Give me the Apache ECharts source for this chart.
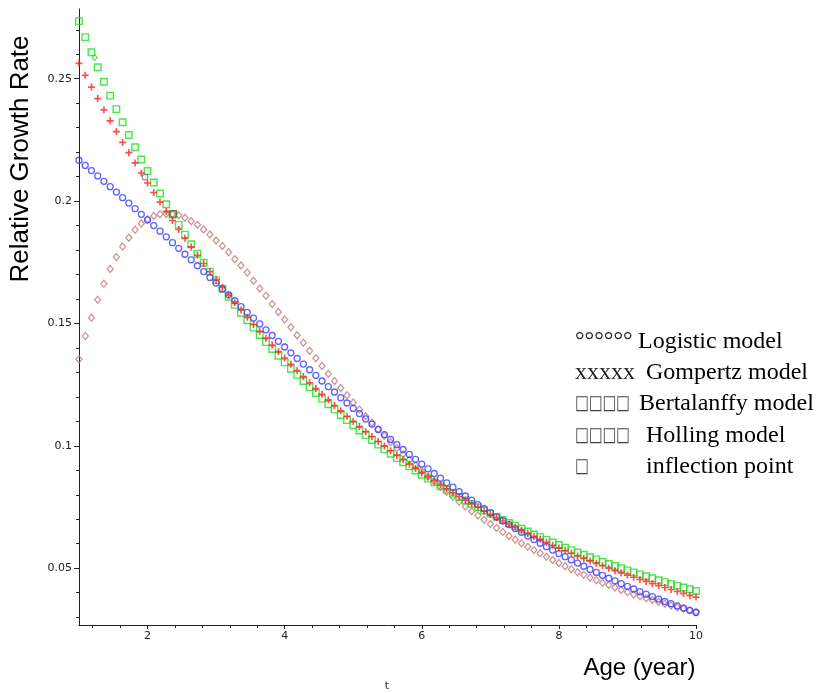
<!DOCTYPE html>
<html>
<head>
<meta charset="utf-8">
<script src="https://cdn.jsdelivr.net/npm/echarts@6/dist/echarts.min.js"></script>
<style>
html,body{margin:0;padding:0;background:#fff;}
#chart{width:824px;height:693px;}
</style>
</head>
<body>
<div id="chart"></div>
<script>
// Age t (years)
const tValues = [
1,1.0909,1.1818,1.2727,1.3636,1.4545,1.5455,1.6364,1.7273,1.8182,1.9091,
2,2.0909,2.1818,2.2727,2.3636,2.4545,2.5455,2.6364,2.7273,2.8182,2.9091,
3,3.0909,3.1818,3.2727,3.3636,3.4545,3.5455,3.6364,3.7273,3.8182,3.9091,
4,4.0909,4.1818,4.2727,4.3636,4.4545,4.5455,4.6364,4.7273,4.8182,4.9091,
5,5.0909,5.1818,5.2727,5.3636,5.4545,5.5455,5.6364,5.7273,5.8182,5.9091,
6,6.0909,6.1818,6.2727,6.3636,6.4545,6.5455,6.6364,6.7273,6.8182,6.9091,
7,7.0909,7.1818,7.2727,7.3636,7.4545,7.5455,7.6364,7.7273,7.8182,7.9091,
8,8.0909,8.1818,8.2727,8.3636,8.4545,8.5455,8.6364,8.7273,8.8182,8.9091,
9,9.0909,9.1818,9.2727,9.3636,9.4545,9.5455,9.6364,9.7273,9.8182,9.9091,
10];

// Logistic model (blue circles)
const logistic = [
0.2167,0.2146,0.2125,0.2103,0.2081,0.2059,0.2037,0.2014,0.1992,0.1969,0.1946,
0.1923,0.1900,0.1877,0.1854,0.1830,0.1807,0.1783,0.1760,0.1736,0.1712,0.1688,
0.1665,0.1641,0.1617,0.1593,0.1569,0.1545,0.1522,0.1498,0.1474,0.1451,0.1427,
0.1404,0.1380,0.1357,0.1334,0.1311,0.1288,0.1265,0.1242,0.1220,0.1197,
0.1175,0.1153,0.1132,0.1110,0.1089,0.1067,0.1046,0.1026,0.1005,
0.0985,0.0965,0.0945,0.0925,0.0906,0.0887,0.0868,0.0849,0.0831,0.0813,0.0795,
0.0778,0.0760,0.0743,0.0727,0.0710,0.0694,0.0678,0.0662,0.0647,0.0632,0.0617,
0.0602,0.0588,0.0574,0.0560,0.0547,0.0534,0.0521,0.0508,0.0495,0.0483,0.0471,
0.0459,0.0448,0.0437,0.0426,0.0415,0.0404,0.0394,0.0384,0.0374,0.0364,0.0355,
0.0346,0.0337,0.0328,0.0319];

// Gompertz model (red crosses)
const gompertz = [
0.2563,0.2514,0.2466,0.2419,0.2373,0.2328,0.2284,0.2240,0.2198,0.2156,0.2115,
0.2074,0.2035,0.1996,0.1958,0.1921,0.1884,0.1848,0.1813,0.1779,0.1745,0.1712,
0.1679,0.1647,0.1616,0.1585,0.1555,0.1525,0.1496,0.1468,0.1440,0.1412,0.1385,
0.1359,0.1333,0.1308,0.1283,0.1258,0.1234,0.1211,0.1188,0.1165,0.1143,0.1121,
0.1100,0.1079,0.1058,0.1038,0.1018,0.0999,0.0980,0.0961,0.0943,0.0925,0.0907,
0.0890,0.0873,0.0857,0.0840,0.0824,0.0809,0.0793,0.0778,0.0763,0.0749,0.0734,
0.0720,0.0707,0.0693,0.0680,0.0667,0.0654,0.0642,0.0630,0.0618,0.0606,0.0594,
0.0583,0.0572,0.0561,0.0550,0.0540,0.0530,0.0520,0.0510,0.0500,0.0490,0.0481,
0.0472,0.0463,0.0454,0.0446,0.0437,0.0429,0.0421,0.0413,0.0405,0.0397,0.0389,
0.0382];

// Bertalanffy model (green squares)
const bertalanffy = [
0.2735,0.2670,0.2608,0.2547,0.2488,0.2431,0.2376,0.2322,0.2270,0.2220,0.2170,
0.2123,0.2076,0.2031,0.1987,0.1945,0.1903,0.1863,0.1824,0.1785,0.1748,0.1712,
0.1677,0.1642,0.1609,0.1576,0.1544,0.1513,0.1483,0.1453,0.1424,0.1396,0.1368,
0.1341,0.1315,0.1290,0.1265,0.1240,0.1216,0.1193,0.1170,0.1148,0.1126,0.1105,
0.1084,0.1063,0.1044,0.1024,0.1005,0.0986,0.0968,0.0950,0.0933,0.0916,0.0899,
0.0882,0.0866,0.0851,0.0835,0.0820,0.0805,0.0791,0.0777,0.0763,0.0749,0.0736,
0.0723,0.0710,0.0697,0.0685,0.0673,0.0661,0.0650,0.0638,0.0627,0.0616,0.0605,
0.0595,0.0584,0.0574,0.0564,0.0555,0.0545,0.0536,0.0526,0.0517,0.0509,0.0500,
0.0491,0.0483,0.0475,0.0467,0.0459,0.0451,0.0443,0.0436,0.0428,0.0421,0.0414,
0.0407];

// Holling model (brown diamonds)
const holling = [
0.1354,0.1449,0.1523,0.1597,0.1662,0.1723,0.1772,0.1815,0.1850,0.1883,0.1909,
0.1926,0.1939,0.1946,0.1947,0.1946,0.1942,0.1932,0.1918,0.1903,0.1884,0.1864,
0.1839,0.1817,0.1791,0.1762,0.1737,0.1708,0.1675,0.1643,0.1613,0.1580,0.1547,
0.1516,0.1485,0.1452,0.1421,0.1389,0.1358,0.1326,0.1295,0.1265,0.1236,0.1207,
0.1177,0.1149,0.1121,0.1094,0.1067,0.1041,0.1015,0.0990,0.0966,0.0943,
0.0920,0.0897,0.0875,0.0854,0.0833,0.0812,0.0792,0.0772,0.0752,0.0733,0.0715,
0.0698,0.0681,0.0664,0.0648,0.0632,0.0616,0.0602,0.0588,0.0574,0.0561,0.0547,
0.0534,0.0521,0.0508,0.0496,0.0484,0.0473,0.0462,0.0451,0.0441,0.0431,0.0421,
0.0411,0.0402,0.0393,0.0385,0.0377,0.0370,0.0363,0.0355,0.0348,0.0341,0.0335,
0.0328,0.0322];

// Inflection point markers [t, rate]
const inflectionGreen = [[1.229, 0.2587]];
const inflectionGrey = [[1.963, 0.2098]];
const inflectionDark = [[2.375, 0.1948]];

// Axis ticks
const xLabelTicks = [2,4,6,8,10];
const xMinorTicks = [1.2,1.6,2.4,2.8,3.2,3.6,4.4,4.8,5.2,5.6,6.4,6.8,7.2,7.6,8.4,8.8,9.2,9.6];
const yLabelTicks = [0.05,0.1,0.15,0.2,0.25];
const yMinorTicks = [0.03,0.04,0.06,0.07,0.08,0.09,0.11,0.12,0.13,0.14,0.16,0.17,0.18,0.19,0.21,0.22,0.23,0.24,0.26,0.27];

const legendRows = [
  {sym:'°°°°°°', box:false, text:'Logistic model', tx:638},
  {sym:'xxxxx', box:false, text:'Gompertz model', tx:646},
  {sym:'□□□□', box:true, text:'Bertalanffy model', tx:639},
  {sym:'□□□□', box:true, text:'Holling model', tx:646},
  {sym:'□', box:true, text:'inflection point', tx:646}
];
const legendY = [342, 373, 404, 436, 467];

const pair = arr => tValues.map((t, i) => [t, arr[i]]);

const plusPath = 'path://M2.3,0L3.7,0L3.7,2.3L6,2.3L6,3.7L3.7,3.7L3.7,6L2.3,6L2.3,3.7L0,3.7L0,2.3L2.3,2.3Z';
const hollow = (c, w) => ({color: 'rgba(0,0,0,0)', borderColor: c, borderWidth: w});

const graphics = [
  {type:'text', x:20.5, y:159, rotation:Math.PI/2, style:{text:'Relative Growth Rate', font:'26px "Liberation Sans"', fill:'#000', align:'center', verticalAlign:'middle'}},
  {type:'text', x:695.5, y:668, style:{text:'Age (year)', font:'24px "Liberation Sans"', fill:'#000', align:'right', verticalAlign:'middle'}},
  {type:'text', x:387, y:686, style:{text:'t', font:'11px "DejaVu Sans"', fill:'#333', align:'center', verticalAlign:'middle'}}
];
legendRows.forEach((r, k) => {
  if (r.box) {
    graphics.push({type:'text', x:575, y:legendY[k], scaleY:1.35, style:{text:r.sym, font:'14.5px "DejaVu Sans"', fill:'#444', align:'left', verticalAlign:'middle'}});
  } else {
    graphics.push({type:'text', x:575, y:legendY[k], style:{text:r.sym, font:'24px "Liberation Serif"', fill:'#222', align:'left', verticalAlign:'middle'}});
  }
  graphics.push({type:'text', x:r.tx, y:legendY[k], style:{text:r.text, font:'24px "Liberation Serif"', fill:'#000', align:'left', verticalAlign:'middle'}});
});

const chart = echarts.init(document.getElementById('chart'), null, {renderer:'canvas'});
chart.setOption({
  animation:false,
  backgroundColor:'#fff',
  grid:{left:79, right:128, top:9, bottom:68, containLabel:false, outerBoundsMode:'none'},
  xAxis:[
    {type:'value', min:1, max:10, position:'bottom',
     axisLine:{show:true, onZero:false, lineStyle:{color:'#222', width:1}},
     axisTick:{show:true, customValues:xLabelTicks, length:4, lineStyle:{color:'#222'}},
     axisLabel:{customValues:xLabelTicks, color:'#222', fontSize:11, fontFamily:'DejaVu Sans', margin:6},
     splitLine:{show:false}},
    {type:'value', min:1, max:10, position:'bottom', offset:0,
     axisLine:{show:false},
     axisTick:{show:true, customValues:xMinorTicks, length:3, lineStyle:{color:'#222'}},
     axisLabel:{show:false}, splitLine:{show:false}}
  ],
  yAxis:[
    {type:'value', min:0.0268, max:0.2785, position:'left',
     axisLine:{show:true, onZero:false, lineStyle:{color:'#222', width:1}},
     axisTick:{show:true, customValues:yLabelTicks, length:5, lineStyle:{color:'#222'}},
     axisLabel:{customValues:yLabelTicks, color:'#222', fontSize:11, fontFamily:'DejaVu Sans', margin:7},
     splitLine:{show:false}},
    {type:'value', min:0.0268, max:0.2785, position:'left', offset:0,
     axisLine:{show:false},
     axisTick:{show:true, customValues:yMinorTicks, length:3, lineStyle:{color:'#222'}},
     axisLabel:{show:false}, splitLine:{show:false}}
  ],
  series:[
    {name:'Holling model', type:'scatter', data:pair(holling), symbol:'diamond', symbolSize:[6,7],
     itemStyle:hollow('#c07a7a', 1.3), silent:true},
    {name:'Bertalanffy model', type:'scatter', data:pair(bertalanffy), symbol:'rect', symbolSize:6.5,
     itemStyle:hollow('#1ee01e', 1.4), silent:true},
    {name:'Logistic model', type:'scatter', data:pair(logistic), symbol:'circle', symbolSize:6,
     itemStyle:hollow('#3a3aff', 1.3), silent:true},
    {name:'Gompertz model', type:'scatter', data:pair(gompertz), symbol:plusPath, symbolSize:7,
     itemStyle:{color:'#ff2020'}, silent:true},
    {name:'inflection green', type:'scatter', data:inflectionGreen, symbol:'diamond', symbolSize:[5,6],
     itemStyle:hollow('#33dd33', 1.2), silent:true},
    {name:'inflection grey', type:'scatter', data:inflectionGrey, symbol:'circle', symbolSize:5.5,
     itemStyle:hollow('#808080', 1.3), silent:true},
    {name:'inflection dark', type:'scatter', data:inflectionDark, symbol:'rect', symbolSize:6.5,
     itemStyle:hollow('#4a6a30', 1.4), silent:true}
  ],
  graphic:graphics
});
</script>
</body>
</html>
